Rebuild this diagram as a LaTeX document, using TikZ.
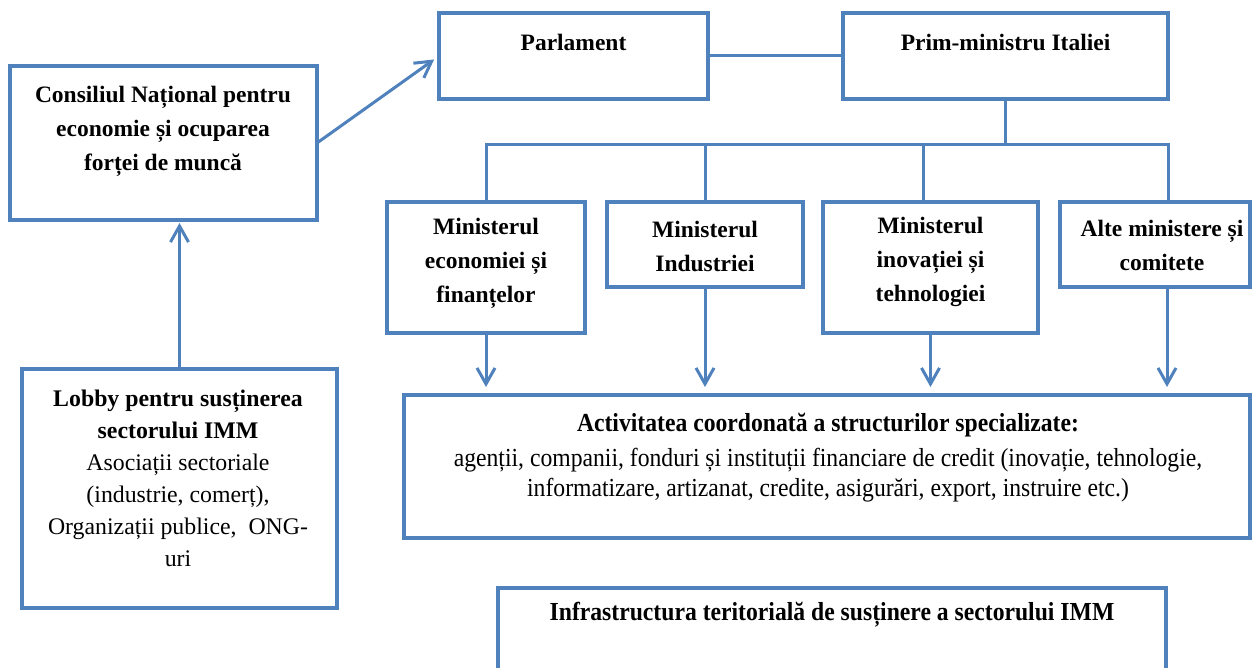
\documentclass[tikz,border=0pt]{standalone}
\usepackage{fontspec}
\setmainfont{Liberation Serif}
\newfontfamily\condfont[FakeStretch=0.91]{Liberation Serif}
\usetikzlibrary{arrows.meta}
\definecolor{boxblue}{RGB}{79,129,189}
\begin{document}
\begin{tikzpicture}[x=0.5pt,y=-0.5pt,
  box/.style={draw=boxblue, line width=2pt, inner sep=0pt, outer sep=0pt},
  conn/.style={draw=boxblue, line width=1.5pt},
  arr/.style={conn, -{Straight Barb[length=8pt,width=9pt]}},
  btxt/.style={align=center, inner sep=0pt, font=\fontsize{11.75pt}{17pt}\selectfont\bfseries},
  ltxt/.style={align=center, inner sep=0pt, font=\fontsize{11.9pt}{16pt}\selectfont},
  ctxt/.style={align=center, inner sep=0pt, font=\condfont\fontsize{13pt}{15pt}\selectfont}
]
\useasboundingbox (0,0) rectangle (1252,668);
\clip (0,0) rectangle (1252,668);

% boxes
\node[box, minimum width=153.5pt, minimum height=77pt]   (cons)  at (163.5,143) {};
\node[box, minimum width=157.5pt, minimum height=119.5pt] (lobby) at (179.5,488.5) {};
\node[box, minimum width=134.5pt, minimum height=43pt]   (parl)  at (573.5,56) {};
\node[box, minimum width=162.5pt, minimum height=43pt]   (prim)  at (1005.5,56) {};
\node[box, minimum width=99pt,    minimum height=65.5pt] (min1)  at (486,267.5) {};
\node[box, minimum width=98pt,    minimum height=42.5pt] (min2)  at (705,244.5) {};
\node[box, minimum width=107.5pt, minimum height=65.5pt] (min3)  at (930.5,267.5) {};
\node[box, minimum width=95pt,    minimum height=42.5pt] (min4)  at (1155,244.5) {};
\node[box, minimum width=423pt,   minimum height=71.5pt] (act)   at (827,466.5) {};
\node[box, minimum width=334pt,   minimum height=56pt]   (infra) at (832,644) {};

% texts
\node[btxt] (tparl) at (573.5,42) {Parlament};
\node[btxt] (tprim) at (1005.5,42) {Prim-ministru Italiei};
\node[btxt] (tcons) at (163,131) {Consiliul Național pentru\\economie și ocuparea\\forței de muncă};
\node[btxt] (tmin1) at (486,263.5) {Ministerul\\economiei și\\finanțelor};
\node[btxt] (tmin2) at (705,246.5) {Ministerul\\Industriei};
\node[btxt] (tmin3) at (930.5,262) {Ministerul\\inovației și\\tehnologiei};
\node[btxt] (tmin4) at (1162,245.5) {Alte ministere și\\comitete};
\node[ltxt] (tlobby) at (178,478.5) {\bfseries Lobby pentru susținerea\\\bfseries sectorului IMM\\\mdseries Asociații sectoriale\\(industrie, comerț),\\Organizații publice,\ \ ONG-\\uri};
\node[ctxt] (tact) at (828,458) {\bfseries Activitatea coordonată a structurilor specializate:\\[2.5pt]\mdseries agenții, companii, fonduri și instituții financiare de credit (inovație, tehnologie,\\informatizare, artizanat, credite, asigurări, export, instruire etc.)};
\node[ctxt, font=\condfont\fontsize{13pt}{15pt}\selectfont\bfseries] (tinfra) at (832,615) {Infrastructura teritorială de susținere a sectorului IMM};

% connectors
\draw[arr, shorten >=3pt] (cons.east) -- (parl.west);
\draw[arr, shorten >=1.5pt] (lobby.north) -- (lobby.north |- cons.south);
\draw[conn] (parl.east) -- (prim.west);
\coordinate (bus) at ([yshift=-23pt]prim.south);
\coordinate (m3t) at ([xshift=-3.75pt]min3.north);
\coordinate (m4t) at ([xshift=6.5pt]min4.north);
\coordinate (m4b) at ([xshift=6pt]min4.south);
\draw[conn] (prim.south) -- (bus);
\draw[conn] (min1.north) |- (bus);
\draw[conn] (m4t) |- (bus);
\draw[conn] (min2.north) -- (min2.north |- bus);
\draw[conn] (m3t) -- (m3t |- bus);
\draw[arr, shorten >=4pt] (min1.south) -- (min1.south |- act.north);
\draw[arr, shorten >=4pt] (min2.south) -- (min2.south |- act.north);
\draw[arr, shorten >=4pt] (min3.south) -- (min3.south |- act.north);
\draw[arr, shorten >=4pt] (m4b) -- (m4b |- act.north);
\end{tikzpicture}
\end{document}
